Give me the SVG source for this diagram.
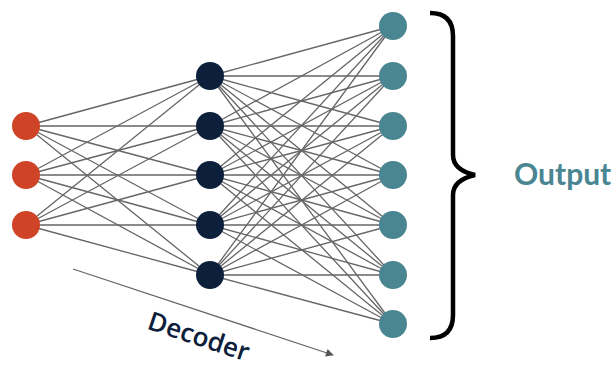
<svg xmlns="http://www.w3.org/2000/svg" width="616" height="369" viewBox="0 0 616 369">
<style>
.e{stroke:#666;stroke-width:1.3;fill:none}
.in{fill:#cf4426}
.hd{fill:#0c203b}
.out{fill:#4a8592}
</style>
<defs>
<marker id="ah" viewBox="0 0 10 10" refX="9" refY="5" markerWidth="7" markerHeight="6" orient="auto" markerUnits="strokeWidth">
<path d="M0,0 L10,5 L0,10 z" fill="#555"/>
</marker>
</defs>
<rect width="616" height="369" fill="#fff"/>
<g id="connectors">
<g class="e">
<path d="M26,126L210,76M26,126L210,126M26,126L210,175M26,126L210,225M26,126L210,275"/>
<path d="M26,175L210,76M26,175L210,126M26,175L210,175M26,175L210,225M26,175L210,275"/>
<path d="M26,225L210,76M26,225L210,126M26,225L210,175M26,225L210,225M26,225L210,275"/>
<path d="M210,76L393,26M210,76L393,76M210,76L393,126M210,76L393,175M210,76L393,225M210,76L393,275M210,76L393,324"/>
<path d="M210,126L393,26M210,126L393,76M210,126L393,126M210,126L393,175M210,126L393,225M210,126L393,275M210,126L393,324"/>
<path d="M210,175L393,26M210,175L393,76M210,175L393,126M210,175L393,175M210,175L393,225M210,175L393,275M210,175L393,324"/>
<path d="M210,225L393,26M210,225L393,76M210,225L393,126M210,225L393,175M210,225L393,225M210,225L393,275M210,225L393,324"/>
<path d="M210,275L393,26M210,275L393,76M210,275L393,126M210,275L393,175M210,275L393,225M210,275L393,275M210,275L393,324"/>
</g>
<path id="decoder-arrow" d="M73,269L333,355" stroke="#666" stroke-width="1.3" fill="none" marker-end="url(#ah)"/>
</g>
<g id="input-layer">
<circle id="i1" class="in" cx="26" cy="126" r="14"/>
<circle id="i2" class="in" cx="26" cy="175" r="14"/>
<circle id="i3" class="in" cx="26" cy="225" r="14"/>
</g>
<g id="hidden-layer">
<circle id="h1" class="hd" cx="210" cy="76" r="14"/>
<circle id="h2" class="hd" cx="210" cy="126" r="14"/>
<circle id="h3" class="hd" cx="210" cy="175" r="14"/>
<circle id="h4" class="hd" cx="210" cy="225" r="14"/>
<circle id="h5" class="hd" cx="210" cy="275" r="14"/>
</g>
<g id="output-layer">
<circle id="o1" class="out" cx="393" cy="26" r="14"/>
<circle id="o2" class="out" cx="393" cy="76" r="14"/>
<circle id="o3" class="out" cx="393" cy="126" r="14"/>
<circle id="o4" class="out" cx="393" cy="175" r="14"/>
<circle id="o5" class="out" cx="393" cy="225" r="14"/>
<circle id="o6" class="out" cx="393" cy="275" r="14"/>
<circle id="o7" class="out" cx="393" cy="324" r="14"/>
</g>
<g id="brace">
<path d="M430,13 Q453,13 453,36 L453,155 Q453,170 475,175 Q453,180 453,195 L453,315 Q453,338 430,338" fill="none" stroke="#000" stroke-width="4.5"/>
</g>
<g id="output-label">
<text x="514" y="185" font-family="Lato, 'Liberation Sans', sans-serif" font-weight="bold" font-size="30" fill="#4a8592">Output</text>
</g>
<g id="decoder-label">
<text transform="translate(196,345) rotate(18.4)" text-anchor="middle" font-family="'Open Sans', 'Liberation Sans', sans-serif" font-weight="600" font-size="26" fill="#0c203b">Decoder</text>
</g>
</svg>
